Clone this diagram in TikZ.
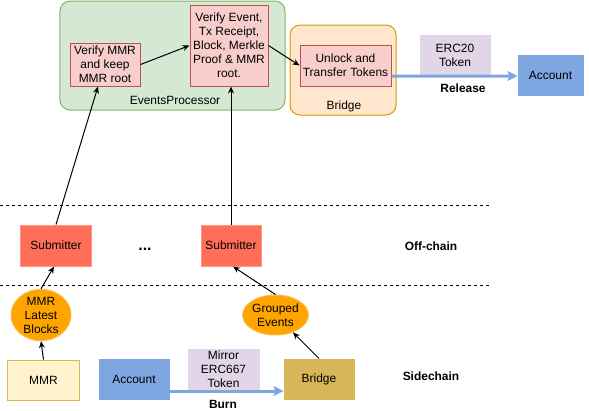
\documentclass[tikz,border=0pt]{standalone}
\usepackage{fontspec}
\setmainfont{Liberation Sans}
\usetikzlibrary{arrows.meta,positioning,shapes.geometric}
\definecolor{procgreen}{RGB}{213,232,212}
\definecolor{procgreenline}{RGB}{130,179,102}
\definecolor{softred}{RGB}{248,206,204}
\definecolor{softredline}{RGB}{184,84,80}
\definecolor{softorange}{RGB}{255,230,204}
\definecolor{softorangeline}{RGB}{215,155,0}
\definecolor{softpurple}{RGB}{225,213,231}
\definecolor{accblue}{RGB}{126,166,224}
\definecolor{subred}{RGB}{255,110,88}
\definecolor{subredline}{RGB}{255,150,130}
\definecolor{evorange}{RGB}{255,165,0}
\definecolor{evorangeline}{RGB}{255,185,80}
\definecolor{softyellow}{RGB}{255,242,204}
\definecolor{goldline}{RGB}{214,182,86}
\tikzset{
  txt/.style={font=\fontsize{12}{14}\selectfont, align=center, inner sep=1bp},
  boldtxt/.style={txt, font=\fontsize{12}{14}\selectfont\bfseries},
  box/.style={txt, rectangle, draw, line width=1bp},
  group/.style={rectangle, rounded corners=10bp, draw, line width=1bp},
  procbox/.style={box, draw=softredline, fill=softred},
  tokenbox/.style={box, draw=softpurple, fill=softpurple, minimum width=70bp, minimum height=40bp},
  accountbox/.style={box, draw=accblue, fill=accblue, minimum height=40bp},
  submitbox/.style={box, draw=subredline, fill=subred, minimum height=41bp},
  eventball/.style={txt, ellipse, draw=evorangeline, fill=evorange, line width=1bp, inner sep=0pt},
  arrow/.style={-{Stealth[length=7bp,width=6bp]}, line width=1bp},
  flowarrow/.style={-{Stealth[length=10bp,width=10bp,inset=2bp]}, line width=3bp, accblue},
  divider/.style={line width=1bp, dash pattern=on 3bp off 3bp},
}
\begin{document}
\begin{tikzpicture}[x=1bp, y=-1bp]
\useasboundingbox (0,0) rectangle (589,410);
\node[group, draw=procgreenline, fill=procgreen, minimum width=225bp, minimum height=109bp] (proc) at (172.5,55.5) {};
\node[txt] (proclbl) at (175,100) {EventsProcessor};
\node[procbox, minimum width=70bp, minimum height=43bp] (mmrv) at (105,64.5) {Verify MMR\\and keep\\MMR root};
\node[procbox, minimum width=78bp, minimum height=81bp] (evt) at (229,45.5) {Verify Event,\\Tx Receipt,\\Block, Merkle\\Proof \& MMR\\root.};
\node[group, draw=softorangeline, fill=softorange, minimum width=106bp, minimum height=90bp] (bridgetop) at (343,70) {};
\node[txt] (bridgelbl) at (344,106) {Bridge};
\node[procbox, minimum width=91bp, minimum height=41bp] (unlock) at (345.5,65.5) {Unlock and\\Transfer Tokens};
\node[tokenbox] (erc20) at (455,55) {ERC20\\Token};
\node[accountbox, minimum width=65bp] (acctop) at (550.5,75) {Account};
\node[boldtxt] (release) at (463,88) {Release};

\coordinate (d1a) at (0,205);
\coordinate (d1b) at (490,205);
\coordinate (d2a) at (0,285);
\coordinate (d2b) at (490,285);
\draw[divider] (d1a) -- (d1b);
\draw[divider] (d2a) -- (d2b);

\node[submitbox, minimum width=70bp] (sub1) at (56,245.5) {Submitter};
\node[boldtxt, font=\fontsize{16}{18}\selectfont\bfseries] (dots) at (145,249) {...};
\node[submitbox, minimum width=60bp] (sub2) at (231,245.5) {Submitter};
\node[boldtxt] (offchain) at (431,246) {Off-chain};

\node[eventball, minimum width=60bp, minimum height=45bp] (mmrblocks) at (41,315) {MMR\\Latest\\Blocks};
\node[eventball, minimum width=61bp, minimum height=40bp] (grouped) at (275.5,315) {Grouped\\Events};

\node[box, draw=goldline, fill=softyellow, minimum width=71bp, minimum height=40bp] (mmr) at (43.5,380) {MMR};
\node[accountbox, minimum width=70bp] (accbot) at (134,379) {Account};
\node[tokenbox, minimum width=71bp] (mirror) at (223.5,369) {Mirror\\ERC667\\Token};
\node[box, draw=goldline, fill=goldline, minimum width=70bp, minimum height=40bp] (bridgebot) at (319,379) {Bridge};
\node[boldtxt] (burn) at (223,404) {Burn};
\node[boldtxt] (sidechain) at (431,376) {Sidechain};

\draw[arrow] (mmrv.east) -- (evt.west);
\draw[arrow] (evt.east) -- (unlock.west);
\draw[flowarrow] ([yshift=-10.5bp]unlock.east) -- ([yshift=-1bp]acctop.west);
\draw[arrow] (sub1.north) -- ([xshift=-7bp]mmrv.south);
\draw[arrow] (sub2.north) -- (sub2.north |- evt.south);
\draw[arrow] (mmrblocks.north) -- ([xshift=-2bp]sub1.south);
\draw[arrow] (grouped.north) -- ([xshift=2bp]sub2.south);
\draw[arrow] (mmr.north) -- (mmrblocks.south);
\draw[arrow] (bridgebot.north) -- (grouped.-45);
\draw[flowarrow] ([yshift=-12bp]accbot.east) -- ([yshift=-12bp]bridgebot.west);
\end{tikzpicture}
\end{document}
